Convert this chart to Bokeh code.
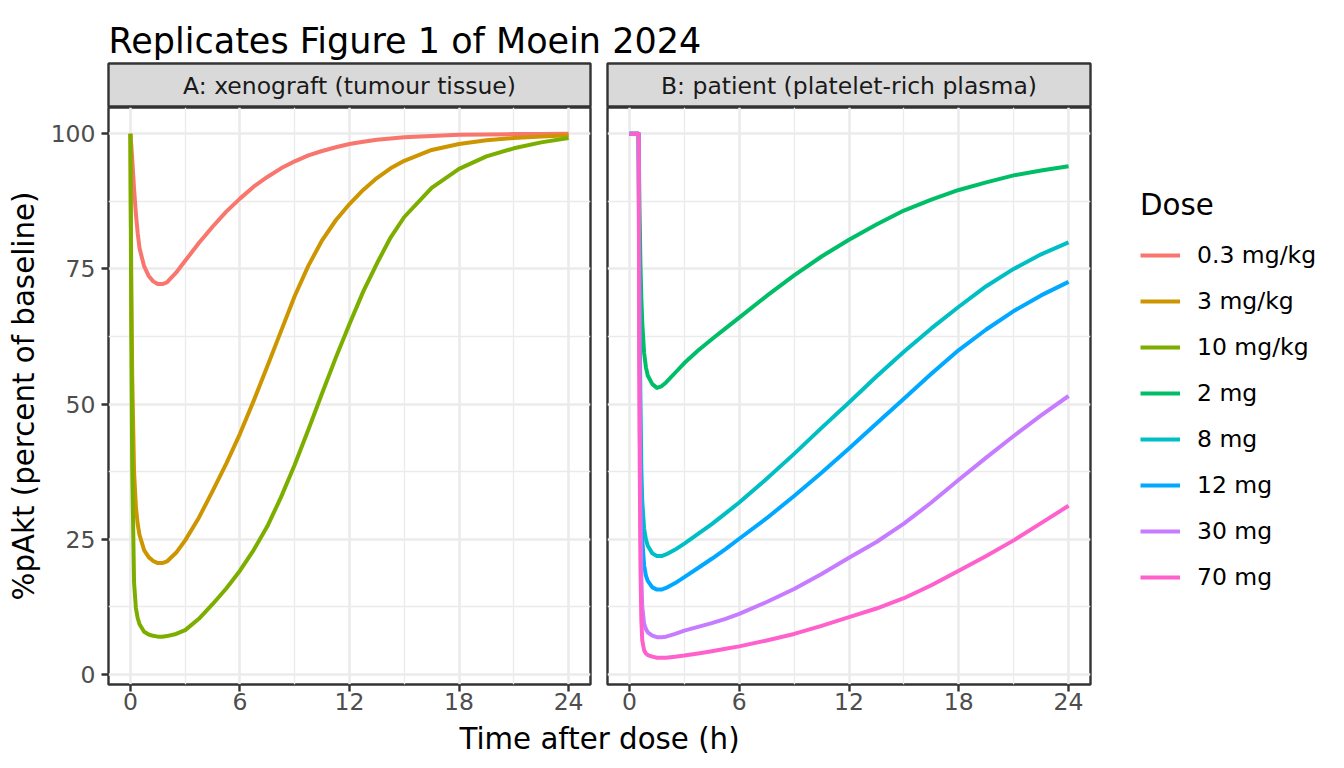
from bokeh.plotting import figure
from bokeh.layouts import row, column
from bokeh.models import FixedTicker, Legend, LegendItem, Range1d
from bokeh.embed import file_html
from bokeh.resources import INLINE
from bokeh.core.properties import value

# ---------------- data ----------------
title_text = "Replicates Figure 1 of Moein 2024"
strip_labels = ["A: xenograft (tumour tissue)", "B: patient (platelet-rich plasma)"]
x_label = "Time after dose (h)"
y_label = "%pAkt (percent of baseline)"
legend_title = "Dose"

x_ticks = [0, 6, 12, 18, 24]
x_minor = [3, 9, 15, 21]
y_ticks = [0, 25, 50, 75, 100]
y_minor = [12.5, 37.5, 62.5, 87.5]

# Panel A: xenograft (tumour tissue)
time_a = [0, 0.05, 0.1, 0.2, 0.3, 0.4, 0.5, 0.75, 1, 1.25, 1.5, 1.75, 2, 2.5, 3,
          3.75, 4.5, 5.25, 6, 6.75, 7.5, 8.25, 9, 9.75, 10.5, 11.25, 12, 12.75,
          13.5, 14.25, 15, 16.5, 18, 19.5, 21, 22.5, 24]
pakt_0p3mgkg = [100, 97.8, 95.3, 89.8, 85.2, 81.6, 78.8, 75.5, 73.7, 72.7, 72.2, 72.2,
                72.5, 74.3, 76.5, 79.8, 82.8, 85.6, 88.0, 90.2, 92.0, 93.6, 94.9,
                96.0, 96.8, 97.5, 98.1, 98.5, 98.9, 99.1, 99.35, 99.6, 99.8, 99.88,
                99.93, 99.97, 100]
pakt_3mgkg = [100, 72, 55, 37.5, 31, 27.8, 25.8, 23.0, 21.7, 21.0, 20.6, 20.6,
              20.9, 22.5, 24.8, 29.0, 33.9, 39.0, 44.5, 50.6, 57.0, 63.5, 70.0,
              75.6, 80.3, 84.0, 87.0, 89.6, 91.8, 93.6, 95.0, 97.0, 98.1, 98.8,
              99.2, 99.5, 99.7]
pakt_10mgkg = [100, 62, 38, 17, 12.3, 10.4, 9.3, 7.9, 7.4, 7.15, 7.0, 7.0,
               7.1, 7.5, 8.2, 10.3, 13.0, 15.9, 19.2, 23.0, 27.4, 32.8, 38.8,
               45.3, 52.0, 58.6, 64.8, 70.8, 76.0, 80.8, 84.6, 90.0, 93.5, 95.8,
               97.3, 98.4, 99.2]

# Panel B: patient (platelet-rich plasma)
time_b = [0, 0.5, 0.55, 0.6, 0.65, 0.7, 0.8, 0.9, 1, 1.25, 1.5, 1.75, 2, 2.5, 3,
          3.75, 4.5, 5.25, 6, 7.5, 9, 10.5, 12, 13.5, 15, 16.5, 18, 19.5, 21,
          22.5, 24]
pakt_2mg = [100, 100, 86, 76, 69.5, 65, 59.5, 56.8, 55.3, 53.7, 53.0, 53.3, 54.0,
            55.8, 57.6, 59.9, 62.0, 64.0, 66.0, 70.0, 73.8, 77.3, 80.4, 83.2,
            85.8, 87.8, 89.6, 91.0, 92.3, 93.2, 94.0]
pakt_8mg = [100, 100, 70, 50, 38, 32, 27, 25, 23.8, 22.4, 21.9, 21.9, 22.2,
            23.1, 24.2, 26.0, 27.8, 29.8, 31.8, 36.2, 40.8, 45.6, 50.3, 55.1,
            59.7, 64.0, 68.0, 71.8, 75.0, 77.7, 79.9]
pakt_12mg = [100, 100, 65, 42, 30, 25, 20.2, 18.3, 17.3, 16.1, 15.7, 15.7, 16.0,
             16.9, 18.0, 19.7, 21.4, 23.2, 25.1, 28.9, 33.0, 37.3, 41.8, 46.4,
             51.0, 55.6, 60.0, 63.8, 67.2, 70.1, 72.6]
pakt_30mg = [100, 100, 55, 30, 18, 12.5, 9.4, 8.4, 7.8, 7.2, 6.9, 6.9, 7.0,
             7.5, 8.1, 8.8, 9.5, 10.3, 11.2, 13.4, 15.8, 18.6, 21.6, 24.5,
             27.9, 31.8, 36.0, 40.1, 44.1, 47.9, 51.5]
pakt_70mg = [100, 100, 45, 20, 10, 6.3, 4.5, 3.9, 3.6, 3.3, 3.1, 3.1, 3.1,
             3.3, 3.5, 3.9, 4.3, 4.75, 5.2, 6.3, 7.5, 9.0, 10.6, 12.2,
             14.1, 16.5, 19.2, 21.9, 24.8, 28.0, 31.2]

doses_a = ["0.3 mg/kg", "3 mg/kg", "10 mg/kg"]
doses_b = ["2 mg", "8 mg", "12 mg", "30 mg", "70 mg"]
series_a = [pakt_0p3mgkg, pakt_3mgkg, pakt_10mgkg]
series_b = [pakt_2mg, pakt_8mg, pakt_12mg, pakt_30mg, pakt_70mg]
colors_a = ["#F8766D", "#CD9600", "#7CAE00"]
colors_b = ["#00BE67", "#00BFC4", "#00A9FF", "#C77CFF", "#FF61CC"]

# ---------------- styling / layout constants ----------------
FONT = "DejaVu Sans"
TITLE_H = 62
STRIP_H = 45
PANEL_H = 613
XLAB_H = 46
A_W, A_L, A_R = 598, 108, 8
B_W, B_L, B_R = 496, 9, 4
LEG_W = 248
TOTAL_W = A_W + B_W + LEG_W
LINE_W = 4
GRID = "#EBEBEB"
DARK = "#333333"


def bare_figure(width, height, left=0, right=0, top=0, bottom=0):
    f = figure(width=width, height=height, x_range=Range1d(0, 1), y_range=Range1d(0, 1),
               x_axis_type=None, y_axis_type=None, output_backend="svg",
               toolbar_location=None, min_border_left=left, min_border_right=right,
               min_border_top=top, min_border_bottom=bottom)
    f.outline_line_color = None
    f.background_fill_color = "white"
    f.border_fill_color = "white"
    return f


def make_strip(width, left, right, label):
    s = bare_figure(width, STRIP_H, left, right, top=1, bottom=0)
    s.background_fill_color = "#D9D9D9"
    s.outline_line_color = DARK
    s.outline_line_width = 2.4
    s.text(x=[0.5], y=[0.5], text=[label], text_align="center", text_baseline="middle",
           text_font=value(FONT), text_font_size="23.5px", text_color="#1A1A1A")
    return s


def make_panel(width, left, right, show_y):
    p = figure(width=width, height=PANEL_H, x_range=Range1d(-1.2, 25.2),
               y_range=Range1d(-1.85, 104.85), output_backend="svg",
               toolbar_location=None, min_border_left=left, min_border_right=right,
               min_border_top=0, min_border_bottom=PANEL_H - 577,
               y_axis_location="left" if show_y else None)
    p.background_fill_color = "white"
    p.border_fill_color = "white"
    p.outline_line_color = DARK
    p.outline_line_width = 2.4
    p.xgrid.ticker = FixedTicker(ticks=x_ticks, minor_ticks=x_minor)
    p.ygrid.ticker = FixedTicker(ticks=y_ticks, minor_ticks=y_minor)
    for g in (p.xgrid, p.ygrid):
        g.grid_line_color = GRID
        g.grid_line_width = 2.6
        g.minor_grid_line_color = GRID
        g.minor_grid_line_width = 1.3
    p.xaxis.ticker = FixedTicker(ticks=x_ticks)
    p.xaxis.major_label_standoff = 1
    if show_y:
        p.yaxis.ticker = FixedTicker(ticks=y_ticks)
        p.yaxis.axis_label = y_label
        p.yaxis.major_label_standoff = 6
    for ax in p.axis:
        ax.axis_line_color = None
        ax.major_tick_line_color = DARK
        ax.major_tick_line_width = 2.4
        ax.major_tick_out = 7
        ax.major_tick_in = 0
        ax.minor_tick_line_color = None
        ax.major_label_text_font = FONT
        ax.major_label_text_font_size = "23.5px"
        ax.major_label_text_color = "#4D4D4D"
        ax.axis_label_text_font = FONT
        ax.axis_label_text_font_size = "29.3px"
        ax.axis_label_text_font_style = "normal"
        ax.axis_label_text_color = "black"
        ax.axis_label_standoff = 7
    return p


# title row
title_fig = bare_figure(TOTAL_W, TITLE_H, left=A_L)
title_fig.text(x=[0], y=[0.34], text=[title_text], text_align="left",
               text_baseline="alphabetic", text_font=value(FONT),
               text_font_size="35px", text_color="black")

strip_a = make_strip(A_W, A_L, A_R, strip_labels[0])
strip_b = make_strip(B_W, B_L, B_R, strip_labels[1])

panel_a = make_panel(A_W, A_L, A_R, True)
panel_b = make_panel(B_W, B_L, B_R, False)

for vals, col in zip(series_a, colors_a):
    panel_a.line(x=time_a, y=vals, line_color=col, line_width=LINE_W, line_join="round")
for vals, col in zip(series_b, colors_b):
    panel_b.line(x=time_b, y=vals, line_color=col, line_width=LINE_W, line_join="round")

# legend figure (keys are legend proxies with no visible data)
leg_fig = bare_figure(LEG_W, STRIP_H + PANEL_H, top=6)
items = []
nan = float("nan")
for name, col in zip(doses_a + doses_b, colors_a + colors_b):
    r = leg_fig.line(x=[nan], y=[nan], line_color=col, line_width=LINE_W)
    items.append(LegendItem(label=name, renderers=[r]))

legend = Legend(items=items, title=legend_title, location="center_left")
legend.border_line_color = None
legend.background_fill_alpha = 0
legend.margin = 46
legend.padding = 0
legend.spacing = 0
legend.glyph_width = 40
legend.glyph_height = 46
legend.label_height = 46
legend.label_standoff = 17
legend.label_text_font = FONT
legend.label_text_font_size = "23.5px"
legend.label_text_color = "black"
legend.title_text_font = FONT
legend.title_text_font_size = "29.3px"
legend.title_text_font_style = "normal"
legend.title_text_color = "black"
legend.title_standoff = 10
leg_fig.add_layout(legend)

# shared x-axis title, centred under both panels
xlab = bare_figure(TOTAL_W, XLAB_H, left=A_L, right=TOTAL_W - A_L - 982)
xlab.text(x=[0.5], y=[0.6], text=[x_label], text_align="center", text_baseline="middle",
          text_font=value(FONT), text_font_size="29.3px", text_color="black")

layout = column(
    title_fig,
    row(column(strip_a, panel_a), column(strip_b, panel_b), leg_fig),
    xlab,
)

open("out.html", "w").write(file_html(layout, INLINE))
